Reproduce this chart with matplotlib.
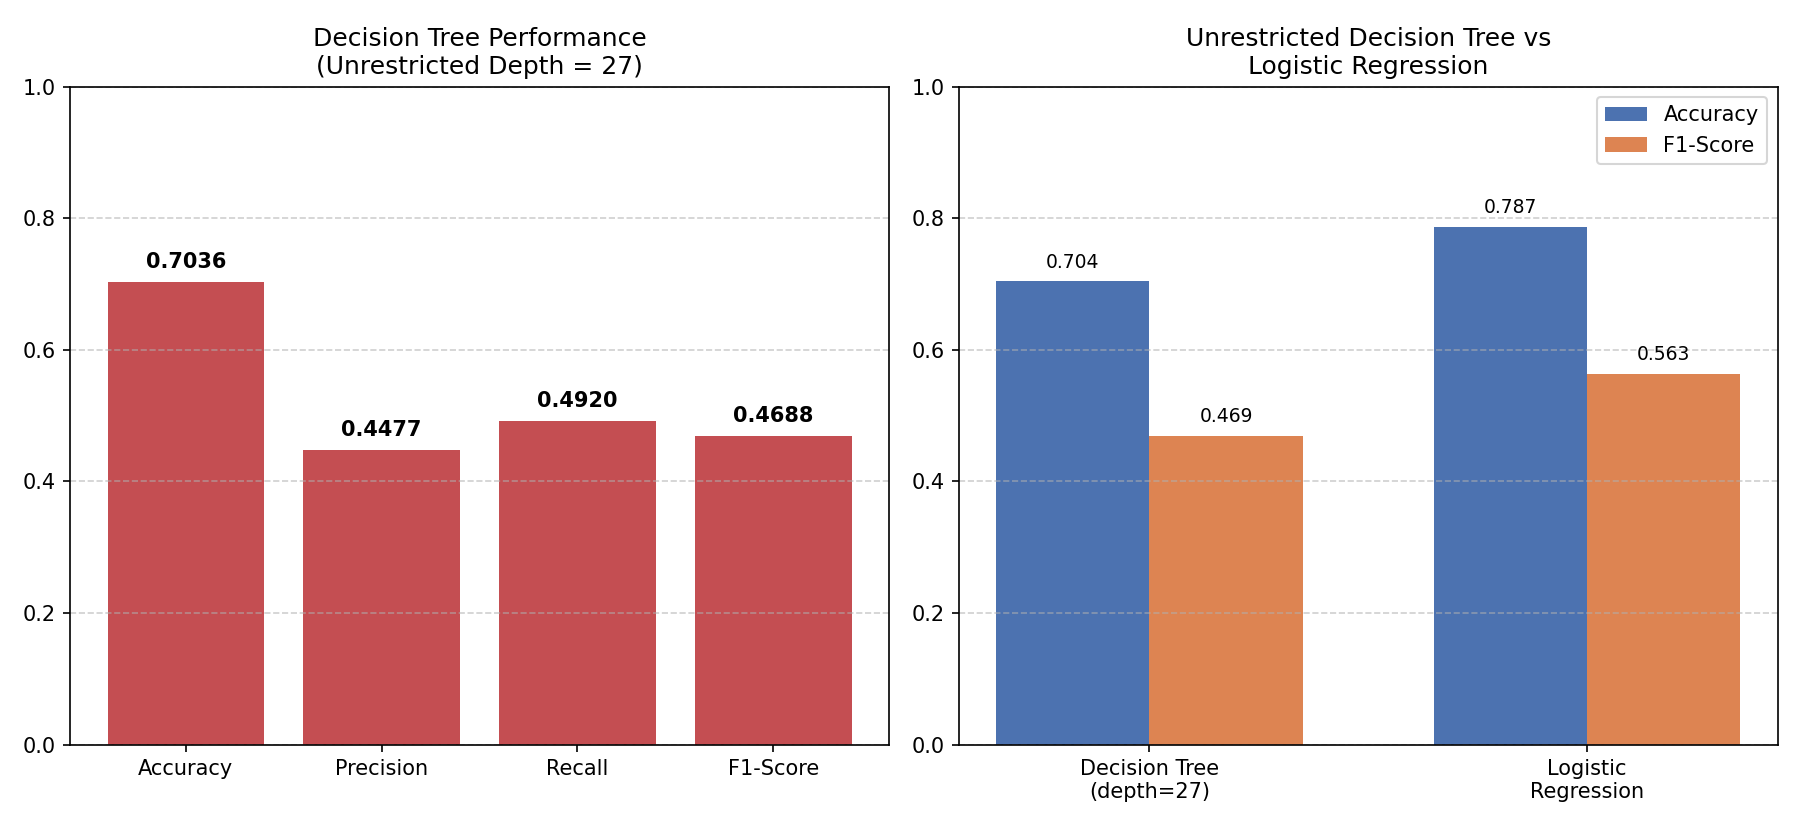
import matplotlib
matplotlib.use("Agg")
import matplotlib.pyplot as plt
import numpy as np

metrics = ["Accuracy", "Precision", "Recall", "F1-Score"]
dt_scores = [0.7036, 0.4477, 0.4920, 0.4688]

models = ["Decision Tree\n(depth=27)", "Logistic\nRegression"]
acc = [0.704, 0.787]
f1 = [0.469, 0.563]

fig, (ax1, ax2) = plt.subplots(1, 2, figsize=(12, 5.5), dpi=150)

bars = ax1.bar(metrics, dt_scores, color="#C44E52")
for b, v in zip(bars, dt_scores):
    ax1.text(b.get_x() + b.get_width() / 2, v + 0.015, f"{v:.4f}",
             ha="center", va="bottom", fontweight="bold", fontsize=10)
ax1.set_ylim(0, 1)
ax1.set_title("Decision Tree Performance\n(Unrestricted Depth = 27)", fontsize=12)
ax1.grid(axis="y", linestyle="--", alpha=0.6)

x = np.arange(len(models))
w = 0.35
b1 = ax2.bar(x - w / 2, acc, w, label="Accuracy", color="#4C72B0")
b2 = ax2.bar(x + w / 2, f1, w, label="F1-Score", color="#DD8452")
for bs, vals in ((b1, acc), (b2, f1)):
    for b, v in zip(bs, vals):
        ax2.text(b.get_x() + b.get_width() / 2, v + 0.015, f"{v:.3f}",
                 ha="center", va="bottom", fontsize=9)
ax2.set_xticks(x)
ax2.set_xticklabels(models)
ax2.set_ylim(0, 1)
ax2.set_title("Unrestricted Decision Tree vs\nLogistic Regression", fontsize=12)
ax2.legend()
ax2.grid(axis="y", linestyle="--", alpha=0.6)

plt.tight_layout()
plt.subplots_adjust(top=0.895)
plt.savefig("out.png")
